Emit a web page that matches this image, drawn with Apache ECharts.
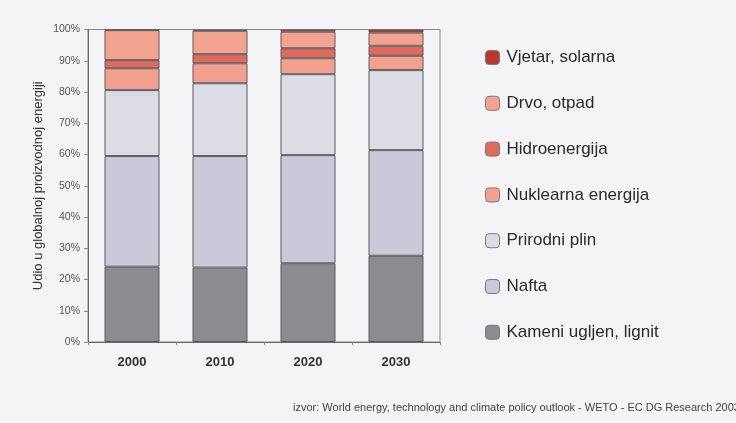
<!DOCTYPE html>
<html>
<head>
<meta charset="utf-8">
<script src="https://cdn.jsdelivr.net/npm/echarts@6/dist/echarts.min.js"></script>
<style>
  html, body { margin: 0; padding: 0; background: #f4f4f7; }
  #chart { width: 736px; height: 423px; }
</style>
</head>
<body>
<div id="chart"></div>
<script>
// kategorije (godine)
const years = ['2000', '2010', '2020', '2030'];

// udjeli po izvoru (%), odozdo prema gore
const kameniUgljen = [24.1, 23.8, 25.2, 27.6];
const nafta = [35.4, 35.7, 34.6, 33.8];
const prirodniPlin = [21.1, 23.3, 25.9, 25.6];
const nuklearna = [7.0, 6.4, 5.1, 4.6];
const hidro = [2.6, 2.9, 3.2, 3.2];
const drvo = [9.6, 7.5, 5.3, 4.2];
const vjetar = [0.2, 0.4, 0.7, 1.0];

const yTicks = [0, 10, 20, 30, 40, 50, 60, 70, 80, 90, 100];
const legendOrder = ['Vjetar, solarna', 'Drvo, otpad', 'Hidroenergija', 'Nuklearna energija', 'Prirodni plin', 'Nafta', 'Kameni ugljen, lignit'];

const chart = echarts.init(document.getElementById('chart'));

function bar(name, data, color) {
    return {
        name: name,
        type: 'bar',
        stack: 'total',
        data: data,
        barWidth: 55,
        itemStyle: { color: color, borderColor: '#5a5a60', borderWidth: 1 }
    };
}

chart.setOption({
    backgroundColor: '#f4f4f7',
    textStyle: { fontFamily: 'Liberation Sans, Arial, sans-serif' },
    animation: false,
    grid: { left: 88, right: 296, top: 29.5, bottom: 81, show: true, borderColor: '#8a8a8e', borderWidth: 1, backgroundColor: 'transparent' },
    legend: {
        orient: 'vertical',
        left: 485,
        top: 49,
        padding: 0,
        itemWidth: 14,
        itemHeight: 14,
        itemGap: 28.8,
        data: legendOrder,
        textStyle: { fontSize: 17, color: '#2a2a2a', padding: [0, 0, 0, 2] },
        itemStyle: { borderColor: '#7a7a80', borderWidth: 1 }
    },
    xAxis: {
        type: 'category',
        data: years,
        axisLine: { lineStyle: { color: '#6a6a6e' } },
        axisTick: { show: true, length: 3, lineStyle: { color: '#8a8a8e' } },
        axisLabel: { color: '#333', fontSize: 13, fontWeight: 'bold', margin: 14 }
    },
    yAxis: {
        type: 'value',
        min: yTicks[0],
        max: yTicks[yTicks.length - 1],
        interval: 10,
        name: 'Udio u globalnoj proizvodnoj energiji',
        nameLocation: 'middle',
        nameGap: 43,
        nameTextStyle: { color: '#333', fontSize: 13 },
        axisLine: { show: true, lineStyle: { color: '#6a6a6e' } },
        axisTick: { show: true, length: 4, lineStyle: { color: '#8a8a8e' } },
        splitLine: { show: false },
        axisLabel: { color: '#555', fontSize: 10.5, margin: 8, formatter: '{value}%' }
    },
    series: [
        bar('Kameni ugljen, lignit', kameniUgljen, '#8b8b92'),
        bar('Nafta', nafta, '#c9c9d8'),
        bar('Prirodni plin', prirodniPlin, '#dcdce5'),
        bar('Nuklearna energija', nuklearna, '#f2a191'),
        bar('Hidroenergija', hidro, '#e06a5c'),
        bar('Drvo, otpad', drvo, '#f3a38f'),
        bar('Vjetar, solarna', vjetar, '#b8392c')
    ],
    graphic: [{
        type: 'text',
        left: 293,
        top: 402,
        style: {
            text: 'izvor: World energy, technology and climate policy outlook - WETO - EC DG Research 2003',
            fontSize: 11,
            fill: '#444',
            fontFamily: 'Liberation Sans, Arial, sans-serif'
        }
    }]
});
</script>
</body>
</html>
